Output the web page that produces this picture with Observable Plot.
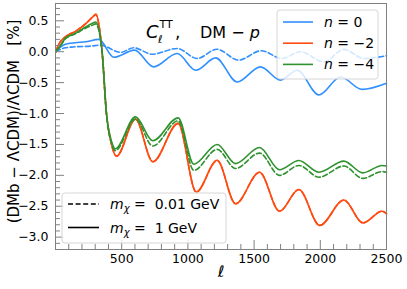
<!DOCTYPE html>
<html><head><meta charset="utf-8">
<script src="https://cdn.jsdelivr.net/npm/d3@7"></script>
<script src="https://cdn.jsdelivr.net/npm/@observablehq/plot@0.6"></script>
<style>body{margin:0;background:#fff}</style>
</head><body><div id="chart"></div>
<script>
// ---- data ----
const ellB1 = [2, 40, 75, 151, 227, 327, 441, 597, 742, 919, 1060, 1210, 1372, 1548, 1699, 1826, 1989, 2153, 2316, 2500];
const valB1 = [0, 0.08, 0.12, 0.145, 0.16, 0.20, -0.09, 0.026, -0.245, -0.03, -0.30, -0.10, -0.49, -0.245, -0.46, -0.30, -0.70, -0.41, -0.61, -0.51];
const ellB0 = [2, 40, 75, 151, 264, 340, 491, 591, 730, 919, 1070, 1219, 1382, 1553, 1712, 1850, 2027, 2178, 2329, 2500];
const valB0 = [0, 0.04, 0.063, 0.08, 0.09, 0.107, -0.01, 0.063, -0.04, 0.053, -0.11, 0.04, -0.136, 0.015, -0.11, 0.0, -0.164, 0.037, -0.11, -0.065];
const ellO = [2, 20, 75, 151, 227, 280, 306, 329, 352, 385, 423, 461, 604, 735, 926, 1063, 1221, 1360, 1541, 1692, 1838, 1996, 2178, 2321, 2467, 2500];
const valO1 = [0, 0.10, 0.24, 0.33, 0.45, 0.56, 0.61, 0.42, 0.0, -1.0, -1.5, -1.69, -1.09, -1.78, -1.16, -2.27, -1.757, -2.46, -1.95, -2.58, -2.23, -2.81, -2.40, -2.77, -2.58, -2.62];
const valO0 = [0, 0.10, 0.24, 0.33, 0.45, 0.56, 0.60, 0.42, 0.0, -1.0, -1.5, -1.69, -1.09, -1.78, -1.16, -2.27, -1.76, -2.46, -1.95, -2.58, -2.23, -2.81, -2.40, -2.77, -2.58, -2.62];
const ellG = [2, 40, 75, 151, 227, 280, 303, 329, 352, 385, 423, 452, 604, 735, 926, 1045, 1221, 1360, 1541, 1692, 1838, 1990, 2178, 2321, 2467, 2500];
const valG1 = [0, 0.11, 0.22, 0.30, 0.40, 0.46, 0.48, 0.35, 0.0, -1.0, -1.45, -1.57, -1.055, -1.44, -1.07, -1.82, -1.50, -1.81, -1.55, -1.91, -1.76, -1.95, -1.77, -1.96, -1.84, -1.85];
const valG0 = [0, 0.10, 0.21, 0.29, 0.38, 0.43, 0.45, 0.33, 0.0, -1.02, -1.48, -1.60, -1.09, -1.525, -1.12, -1.92, -1.58, -1.89, -1.64, -2.0, -1.84, -2.03, -1.85, -2.05, -1.94, -1.95];

const nLabels = ["n = 0", "n = −2", "n = −4"];
const nColors = ["#2f8fff", "#ff4a10", "#2e922e"];
const mLabels = ["0.01 GeV", "1 GeV"];
const xTicks = [500, 1000, 1500, 2000, 2500];
const yTicks = [0.5, 0.0, -0.5, -1.0, -1.5, -2.0, -2.5, -3.0];
const yTitle = "(DMb − ΛCDM)/ΛCDM\u00a0\u00a0\u00a0[%]";
const xTitle = "ℓ";
const xMinor = d3.range(100, 2500, 100).filter(d => d % 500 !== 0);
const yMinor = d3.range(-32, 8).map(d => d / 10).filter(d => Math.round(d * 10) % 5 !== 0);

const series = [
  {ell: ellB0, val: valB0, c: 0, dashed: true},
  {ell: ellB1, val: valB1, c: 0, dashed: false},
  {ell: ellO, val: valO0, c: 1, dashed: true},
  {ell: ellO, val: valO1, c: 1, dashed: false},
  {ell: ellG, val: valG0, c: 2, dashed: true},
  {ell: ellG, val: valG1, c: 2, dashed: false},
];

const W = 407, H = 289, mL = 55, mR = 21, mT = 3, mB = 40;
const innerW = W - mL - mR, innerH = H - mT - mB;
const gray = "#808080";

const lineMarks = series.map(s => Plot.line(s.ell.map((e, i) => ({x: e, y: s.val[i]})), {
  x: "x", y: "y", stroke: nColors[s.c], strokeWidth: 1.6,
  strokeDasharray: s.dashed ? "5,2.6" : null, curve: "monotone-x"
}));

const chart = Plot.plot({
  width: W, height: H,
  marginLeft: mL, marginRight: mR, marginTop: mT, marginBottom: mB,
  style: {fontFamily: "DejaVu Sans", fontSize: "12.5px", color: "#000", background: "#fff"},
  x: {domain: [0, 2500]},
  y: {domain: [-3.2, 0.78]},
  marks: [
    ...lineMarks,
    Plot.tickX(xMinor, {x: d => d, insetTop: innerH - 5, stroke: gray}),
    Plot.tickX(xTicks, {x: d => d, insetTop: innerH - 9, stroke: gray}),
    Plot.tickY(yMinor, {y: d => d, insetRight: innerW - 5, stroke: gray}),
    Plot.tickY(yTicks, {y: d => d, insetRight: innerW - 9, stroke: gray}),
    Plot.axisX(xTicks, {tickSize: 0, tickPadding: 5, label: null, tickFormat: d3.format("d"), fontSize: 12.5}),
    Plot.axisY(yTicks, {tickSize: 0, tickPadding: 7, tickFormat: d3.format(".1f"), fontSize: 12.5, label: null}),
    Plot.text([yTitle], {text: d => d, frameAnchor: "left", textAnchor: "middle", lineAnchor: "middle",
      rotate: -90, dx: -41, dy: -5, fontSize: 15}),
    Plot.text([xTitle], {text: d => d, frameAnchor: "bottom", dy: 27, fontStyle: "italic", fontSize: 16}),
    Plot.frame({stroke: gray, strokeWidth: 1})
  ]
});
document.getElementById("chart").appendChild(chart);

const svg = d3.select(chart);

// annotation
const ann = svg.append("g").attr("font-family", "DejaVu Sans").attr("fill", "#000").attr("text-anchor", "start");
ann.append("text").attr("x", 146).attr("y", 38).attr("font-size", 18).attr("font-style", "italic").text("C");
ann.append("text").attr("x", 158).attr("y", 43).attr("font-size", 11).attr("font-style", "italic").text("ℓ");
ann.append("text").attr("x", 159.5).attr("y", 28).attr("font-size", 11).text("TT");
ann.append("text").attr("x", 175).attr("y", 38).attr("font-size", 17).text(",");
const t2 = ann.append("text").attr("x", 200).attr("y", 38).attr("font-size", 16);
t2.append("tspan").text("DM − ");
t2.append("tspan").attr("font-style", "italic").text("p");

// legend 1 (n)
const lg1 = svg.append("g").attr("font-family", "DejaVu Sans").attr("text-anchor", "start").attr("fill", "#000");
lg1.append("rect").attr("x", 277).attr("y", 10).attr("width", 101).attr("height", 69).attr("rx", 3)
  .attr("fill", "#fff").attr("fill-opacity", 0.8).attr("stroke", "#d6d6d6");
nLabels.forEach((lab, i) => {
  const cy = 22 + i * 21.2;
  lg1.append("line").attr("x1", 283).attr("x2", 313).attr("y1", cy).attr("y2", cy)
    .attr("stroke", nColors[i]).attr("stroke-width", 1.6);
  const t = lg1.append("text").attr("x", 324).attr("y", cy + 5).attr("font-size", 14);
  t.append("tspan").attr("font-style", "italic").text("n");
  t.append("tspan").text(lab.slice(1));
});

// legend 2 (m)
const lg2 = svg.append("g").attr("font-family", "DejaVu Sans").attr("text-anchor", "start").attr("fill", "#000");
lg2.append("rect").attr("x", 62).attr("y", 193).attr("width", 164).attr("height", 50).attr("rx", 3)
  .attr("fill", "#fff").attr("fill-opacity", 0.8).attr("stroke", "#d6d6d6");
mLabels.forEach((lab, i) => {
  const cy = 204 + i * 23.5;
  lg2.append("line").attr("x1", 68).attr("x2", 99).attr("y1", cy).attr("y2", cy)
    .attr("stroke", "#000").attr("stroke-width", 1.6).attr("stroke-dasharray", i === 0 ? "5,2.6" : null);
  const t = lg2.append("text").attr("x", 110).attr("y", cy + 5).attr("font-size", 14);
  t.append("tspan").attr("font-style", "italic").text("m");
  t.append("tspan").attr("font-style", "italic").attr("font-size", 10).attr("dy", 3).text("χ");
  t.append("tspan").attr("dy", -3).text("\u00a0=\u00a0 " + lab);
});
</script></body></html>
